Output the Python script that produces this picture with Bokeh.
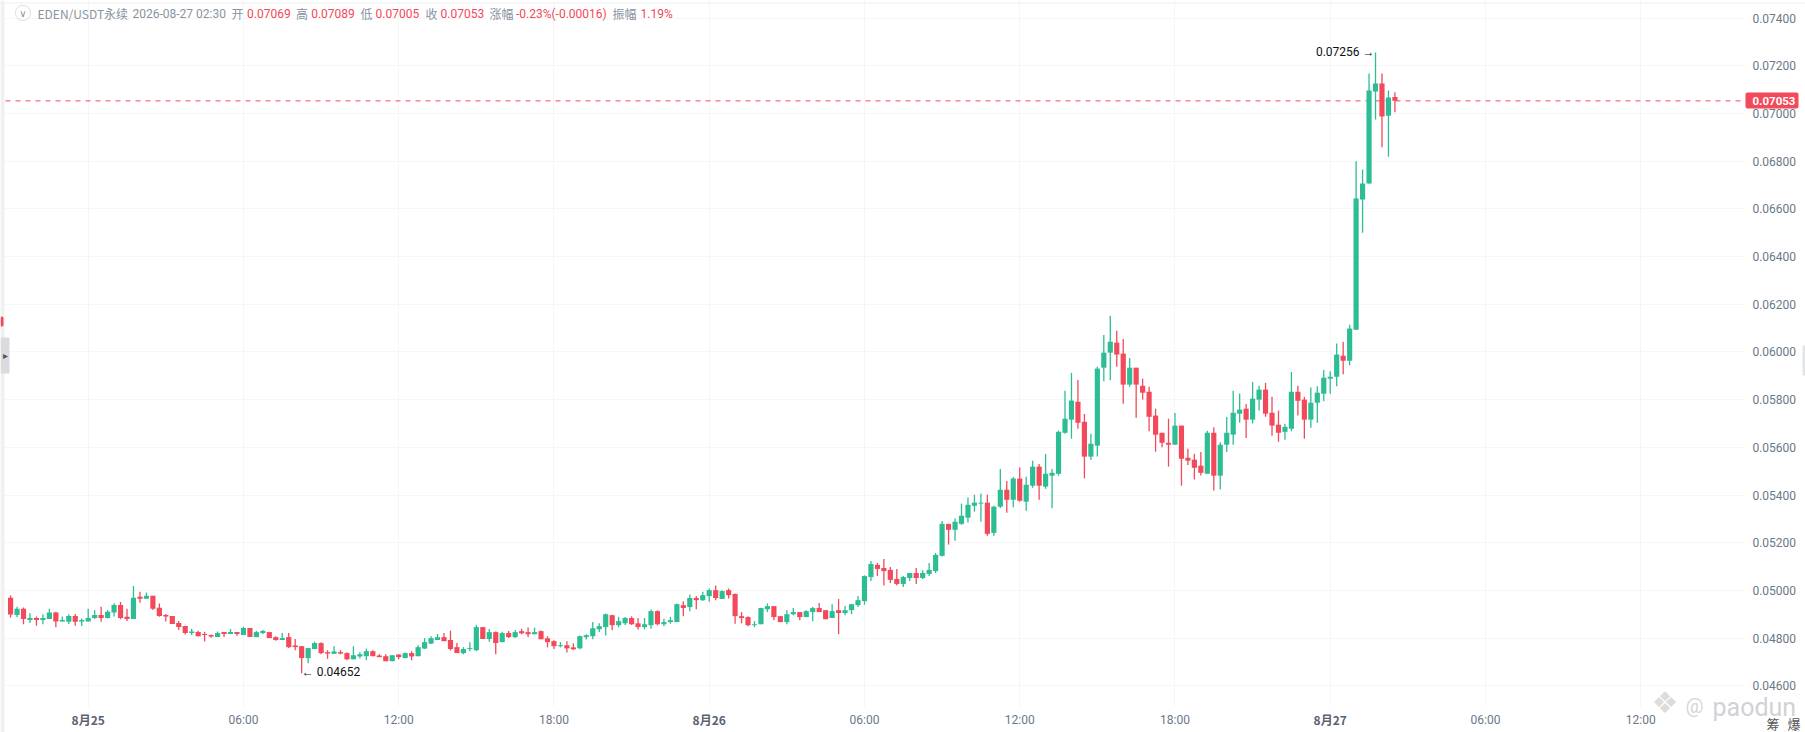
from bokeh.plotting import figure
from bokeh.embed import file_html
from bokeh.resources import INLINE
from bokeh.models import (ColumnDataSource, FixedTicker, LinearAxis, Label, Span, BoxAnnotation,
                          NumeralTickFormatter)
from bokeh.core.properties import value

# EDEN/USDT 15-minute candles, prices x 1e5
opens = [4969,4897,4923,4876,4884,4876,4880,4907,4869,4868,
 4893,4869,4869,4884,4897,4884,4907,4939,4889,4880,
 4973,4965,4977,4927,4897,4893,4863,4851,4821,4825,
 4817,4813,4804,4825,4817,4825,4813,4842,4804,4821,
 4825,4804,4792,4804,4769,4766,4716,4754,4779,4741,
 4734,4741,4737,4711,4723,4724,4745,4727,4724,4703,
 4731,4716,4737,4724,4756,4777,4792,4804,4792,4762,
 4737,4754,4749,4846,4796,4825,4783,4821,4804,4829,
 4825,4816,4829,4799,4787,4766,4770,4761,4757,4804,
 4808,4837,4846,4896,4854,4862,4884,4862,4846,4854,
 4913,4858,4867,4867,4938,4930,4968,4959,4976,5001,
 4964,5001,4985,4892,4888,4854,4858,4921,4934,4892,
 4867,4900,4909,4888,4909,4926,4917,4884,4917,4905,
 4917,4938,4955,5056,5107,5094,5086,5048,5027,5052,
 5073,5052,5069,5081,5145,5279,5254,5279,5305,5355,
 5364,5368,5241,5351,5422,5380,5469,5372,5439,5519,
 5435,5481,5489,5661,5716,5791,5707,5561,5607,5934,
 5997,6039,5993,5863,5934,5858,5833,5733,5661,5619,
 5611,5691,5556,5548,5523,5489,5661,5481,5611,5653,
 5741,5762,5716,5800,5842,5745,5695,5665,5678,5833,
 5800,5716,5787,5825,5888,5896,5984,5963,6093,6639,
 6706,7092,7126,6991,7069]
highs = [4979,4931,4928,4904,4890,4900,4923,4910,4890,4900,
 4901,4882,4923,4917,4931,4918,4946,4951,4923,5018,
 4994,4991,4977,4945,4901,4893,4872,4851,4839,4831,
 4827,4815,4828,4825,4838,4825,4848,4842,4830,4834,
 4827,4808,4821,4821,4796,4766,4758,4785,4783,4749,
 4766,4749,4741,4766,4741,4756,4749,4732,4732,4728,
 4732,4739,4745,4770,4800,4808,4817,4821,4831,4779,
 4762,4783,4855,4846,4838,4828,4827,4830,4834,4839,
 4844,4844,4832,4808,4791,4783,4787,4778,4811,4816,
 4867,4862,4903,4898,4889,4888,4891,4884,4884,4920,
 4916,4881,4889,4945,4954,4983,4976,4994,5008,5021,
 5001,5008,4987,4909,4892,4871,4927,4945,4934,4892,
 4917,4926,4909,4917,4930,4947,4917,4942,4964,4934,
 4944,4976,5063,5123,5115,5132,5098,5090,5060,5073,
 5094,5084,5115,5157,5291,5279,5302,5364,5390,5401,
 5406,5401,5355,5509,5459,5476,5515,5477,5544,5530,
 5572,5509,5670,5837,5912,5882,5740,5657,5938,6071,
 6152,6089,6054,5975,5934,5888,5854,5762,5661,5720,
 5744,5691,5594,5573,5580,5670,5684,5621,5727,5837,
 5826,5782,5874,5858,5870,5812,5754,5699,5916,5858,
 5812,5851,5856,5924,5919,6035,6043,6114,6800,6765,
 7168,7256,7168,7096,7089]
lows = [4886,4887,4858,4863,4852,4858,4880,4845,4869,4859,
 4852,4851,4869,4880,4868,4882,4890,4879,4872,4880,
 4948,4965,4918,4889,4869,4859,4834,4815,4813,4808,
 4786,4801,4804,4804,4817,4810,4813,4804,4804,4817,
 4800,4789,4792,4758,4749,4652,4694,4754,4732,4713,
 4734,4732,4707,4711,4714,4707,4724,4720,4703,4703,
 4711,4716,4707,4724,4754,4775,4792,4787,4748,4737,
 4732,4745,4745,4796,4785,4732,4783,4800,4800,4816,
 4804,4816,4795,4761,4754,4761,4740,4750,4753,4794,
 4795,4826,4811,4833,4846,4855,4855,4836,4837,4839,
 4853,4850,4860,4867,4892,4913,4921,4955,4952,4959,
 4964,4966,4860,4862,4850,4846,4858,4909,4875,4867,
 4858,4896,4875,4888,4871,4909,4879,4884,4816,4896,
 4900,4930,4940,5039,5060,5021,5031,5021,5014,5039,
 5027,5048,5060,5073,5142,5192,5208,5275,5285,5330,
 5288,5229,5229,5345,5326,5349,5372,5334,5430,5380,
 5426,5344,5481,5657,5636,5678,5470,5547,5561,5877,
 5881,5938,5783,5854,5724,5800,5667,5582,5600,5519,
 5611,5439,5526,5465,5482,5489,5419,5423,5580,5611,
 5703,5639,5700,5754,5728,5649,5623,5632,5667,5733,
 5636,5682,5703,5793,5825,5856,5906,5944,6093,6500,
 6706,6975,6858,6819,7005]
closes = [4899,4923,4880,4884,4876,4884,4907,4869,4876,4893,
 4868,4876,4884,4897,4884,4910,4939,4884,4880,4969,
 4965,4977,4923,4893,4890,4859,4846,4821,4828,4808,
 4813,4807,4821,4817,4825,4817,4842,4804,4825,4830,
 4800,4792,4800,4762,4762,4716,4758,4779,4737,4735,
 4744,4735,4711,4728,4732,4745,4724,4720,4703,4728,
 4720,4737,4723,4762,4783,4800,4804,4787,4754,4737,
 4754,4758,4846,4796,4825,4779,4821,4804,4825,4820,
 4816,4825,4795,4783,4766,4770,4757,4753,4808,4812,
 4841,4850,4900,4854,4871,4884,4858,4846,4858,4913,
 4858,4867,4875,4942,4926,4968,4959,4980,5001,4968,
 4997,4980,4892,4884,4854,4858,4926,4934,4888,4867,
 4900,4909,4888,4913,4926,4909,4879,4913,4905,4917,
 4942,4959,5060,5111,5090,5081,5044,5027,5056,5073,
 5052,5073,5086,5149,5279,5254,5288,5313,5359,5368,
 5368,5237,5351,5422,5380,5469,5376,5443,5519,5439,
 5489,5493,5665,5720,5796,5703,5561,5615,5930,5997,
 6043,5989,5863,5934,5863,5829,5728,5653,5619,5611,
 5691,5552,5544,5514,5493,5661,5481,5611,5661,5745,
 5758,5716,5804,5842,5741,5691,5661,5686,5833,5795,
 5716,5787,5829,5892,5896,5989,5963,6098,6643,6706,
 7096,7126,6987,7067,7053]

price_ticks = [0.046,0.048,0.05,0.052,0.054,0.056,0.058,0.06,0.062,0.064,0.066,0.068,0.07,0.072,0.074]
time_ticks = [12,36,60,84,108,132,156,180,204,228,252]
time_labels = ["", "06:00", "12:00", "18:00", "", "06:00", "12:00", "18:00", "", "06:00", "12:00"]
date_ticks = [12,108,204]
date_labels = ["8月25","8月26","8月27"]
last_price = 0.07053
low_idx, high_idx = 45, 211

GREEN, RED = "#2dbd94", "#f2495b"
GREY = "#8a93a0"
TICK = "#6b7888"
LATIN = "Roboto"
CJK = "Noto Sans CJK SC"

W, H = 1805, 732
AXIS_X, AXIS_Y = 268.19, 0.045131   # where the price and time axes sit inside the full-canvas frame
xs = list(range(len(opens)))

p = figure(width=W, height=H, output_backend="svg", toolbar_location=None,
           x_range=(-1.557, 277.47), y_range=(0.04404, 0.074739),
           min_border_left=0, min_border_right=0, min_border_top=0, min_border_bottom=0,
           x_axis_location=None, y_axis_location=None, background_fill_color="white",
           border_fill_color="white", outline_line_color=None)

xax = LinearAxis(ticker=FixedTicker(ticks=time_ticks), fixed_location=AXIS_Y,
                 major_label_overrides={t: l for t, l in zip(time_ticks, time_labels)},
                 axis_line_color=None, major_tick_line_color=None, minor_tick_line_color=None,
                 major_label_text_color=TICK, major_label_text_font=LATIN,
                 major_label_text_font_size="12px", major_label_standoff=7, major_tick_out=0)
p.add_layout(xax, "below")
yax = LinearAxis(ticker=FixedTicker(ticks=price_ticks), fixed_location=AXIS_X,
                 formatter=NumeralTickFormatter(format="0.00000"),
                 axis_line_color=None, major_tick_line_color=None, minor_tick_line_color=None,
                 major_label_text_color=TICK, major_label_text_font=LATIN,
                 major_label_text_font_size="12px", major_label_standoff=7, major_tick_out=0)
p.add_layout(yax, "right")
p.xgrid.ticker = FixedTicker(ticks=time_ticks)
p.ygrid.ticker = FixedTicker(ticks=price_ticks)
p.xgrid.grid_line_color = "#f6f6f7"
p.ygrid.grid_line_color = "#f6f6f7"

def ys(py):
    return H - py

src = ColumnDataSource(dict(
    x=xs,
    o=[v/1e5 for v in opens], h=[v/1e5 for v in highs],
    l=[v/1e5 for v in lows], c=[v/1e5 for v in closes],
    top=[max(a, b)/1e5 for a, b in zip(opens, closes)],
    bot=[min(a, b)/1e5 for a, b in zip(opens, closes)],
    col=[GREEN if b >= a else RED for a, b in zip(opens, closes)],
))
p.segment("x", "h", "x", "l", source=src, line_color="col", line_width=1.3)
p.vbar(x="x", top="top", bottom="bot", width=0.8, source=src, fill_color="col", line_color=None)

p.add_layout(Span(location=last_price, dimension="width", line_color=RED, line_width=1,
                  line_dash="5 5", line_dash_offset=5, level="underlay"))

# White gutters hide grid and dashed line under the axes
p.add_layout(BoxAnnotation(left=1745, right=W, top=ys(0), bottom=ys(H), left_units="screen", right_units="screen",
                           top_units="screen", bottom_units="screen", fill_color="white", fill_alpha=1,
                           line_color=None, level="glyph"))
p.add_layout(BoxAnnotation(left=0, right=W, top=ys(706), bottom=ys(H), left_units="screen", right_units="screen",
                           top_units="screen", bottom_units="screen", fill_color="white", fill_alpha=1,
                           line_color=None, level="glyph"))

# High / low annotations
p.text(x=[high_idx], y=[highs[high_idx]/1e5], text=["0.07256 →"], text_font=value(LATIN),
       text_font_size="12px", text_color="#111111", text_align="right", text_baseline="middle",
       x_offset=-1, y_offset=0)
p.text(x=[low_idx], y=[lows[low_idx]/1e5], text=["← 0.04652"], text_font=value(LATIN),
       text_font_size="12px", text_color="#111111", text_align="left", text_baseline="middle",
       x_offset=0, y_offset=-1)

def lab(x, cy, text, color=GREY, font=LATIN, size="12px", **kw):
    p.add_layout(Label(x=x, y=ys(cy), x_units="screen", y_units="screen", text=text, text_color=color,
                       text_font=font, text_font_size=size, text_baseline="middle", level="overlay", **kw))

# Header
lab(37, 13, "EDEN/USDT永续", font=CJK)
lab(132, 13, "2026-08-27 02:30")
for x, t in [(231, "开"), (295.4, "高"), (360, "低"), (425, "收"), (489, "涨幅"), (612, "振幅")]:
    lab(x, 13, t, font=CJK)
for x, t in [(246.5, "0.07069"), (310.7, "0.07089"), (375, "0.07005"), (440, "0.07053"),
             (515.5, "-0.23%(-0.00016)"), (640, "1.19%")]:
    lab(x, 13, t, color=RED)

def box(l, r, t, b, fill="#f0f0f0", **kw):
    p.add_layout(BoxAnnotation(left=l, right=r, top=ys(t), bottom=ys(b), left_units="screen", right_units="screen",
                               top_units="screen", bottom_units="screen", fill_color=fill, fill_alpha=1,
                               line_color=None, level="overlay", **kw))

# Collapse icon
p.add_layout(BoxAnnotation(left=15, right=30, top=ys(5), bottom=ys(20), left_units="screen", right_units="screen",
                           top_units="screen", bottom_units="screen", fill_alpha=0, line_color=GREY,
                           line_width=1, border_radius=7, level="overlay"))
lab(22.5, 12.5, "∨", font="DejaVu Sans", size="10px", text_align="center")

# Chrome: strips and side handles
box(0, 4, 0, 732)
box(0, 1805, 2, 3)
box(0, 9, 337, 373, fill="#d9dbde")
lab(2, 355, "▸", color="#555555", size="10px")
box(0, 3, 316, 326, fill=RED, border_radius=3)
box(1802, 1805, 345, 375, fill="#e3e4e6")

# Last-price tag
box(1745, 1798, 92, 108, fill=RED, border_radius=2)
lab(1752, 100, "0.07053", color="white", size="11.5px", text_font_style="bold")

# Date labels
for t, l in zip(date_ticks, date_labels):
    p.add_layout(Label(x=t, x_units="data", y=ys(719), y_units="screen", text=l, text_color="#5a6270",
                       text_font=CJK, text_font_size="12px", text_font_style="bold",
                       text_align="center", text_baseline="middle", level="overlay"))

# Watermark and bottom-right control
lab(1651, 702, "❖", color="#dcdcdc", size="30px", font="DejaVu Sans")
lab(1685, 705, "@", color="#d4d6da", size="20px")
lab(1712, 707, "paodun", color="#d0d2d6", size="25px")
lab(1766, 723, "筹", color="#555555", font=CJK, size="13px")
lab(1787, 723, "爆", color="#555555", font=CJK, size="13px")

open("out.html", "w").write(file_html(p, INLINE))
